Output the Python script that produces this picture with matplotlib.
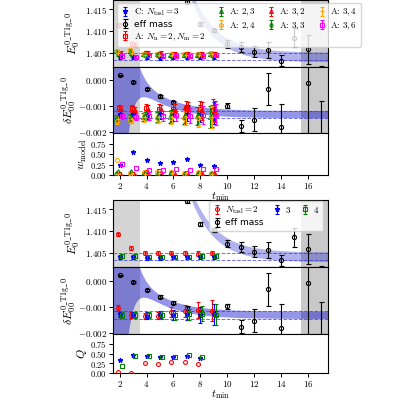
import numpy as np
import matplotlib
matplotlib.use("Agg")
import matplotlib.pyplot as plt
from matplotlib.ticker import FixedLocator, FuncFormatter

plt.rcParams['font.family'] = 'serif'
plt.rcParams['font.serif'] = ['cmr10', 'DejaVu Serif']
plt.rcParams['mathtext.fontset'] = 'cm'
plt.rcParams['axes.formatter.use_mathtext'] = True
plt.rcParams['axes.linewidth'] = 0.8

# ---------------- data ----------------
t_fit = np.arange(2, 10)

# effective mass (same for both groups)
t_effE = np.arange(7, 18)
E_eff = [1.4168, 1.4116, 1.4102, 1.4071, 1.4063, 1.4052, 1.4056, 1.4032, 1.4085, 1.4058, 1.3975]
E_eff_err = [0.0003, 0.0004, 0.0004, 0.0009, 0.0011, 0.0013, 0.0019, 0.0012, 0.0022, 0.0034, 0.0045]
t_effD = np.arange(2, 18)
dE_eff = [0.00020, -0.00006, -0.00034, -0.00061, -0.00084, -0.00103, -0.00119, -0.00126,
          -0.00097, -0.00176, -0.00152, -0.00033, -0.00180, np.nan, -0.00010, -0.00220]
dE_eff_err = [0.00003, 0.00003, 0.00004, 0.00005, 0.00006, 0.00007, 0.00008, 0.00010,
              0.00010, 0.00025, 0.00044, 0.00062, 0.00090, np.nan, 0.00200, 0.00140]

# fit of effective mass (band) and final result (dashed)
E_inf, E_amp, E_gap, E_sig = 1.4039, 0.0100, 0.55, 0.0011
dE_inf, dE_amp, dE_gap = -0.00132, 0.00097, 0.467
dE_sig0, dE_sig1, dE_sigk = 0.00014, 0.00046, 2.0
E_res, E_res_err = 1.4041, 0.00085
dE_res, dE_res_err = -0.00131, 0.00014

# top group: E0
E_C   = [1.4040, 1.4040, 1.4039, 1.4038, 1.4039, 1.4040, 1.4040, 1.4041]
E_A22 = [1.4113, 1.4070, 1.4049, 1.4048, 1.4047, 1.4046, 1.4046, 1.4046]
E_A23 = [1.4053, 1.4054, 1.4046, 1.4046, 1.4045, 1.4045, 1.4045, 1.4047]
E_A24 = [1.4055, 1.4056, 1.4047, 1.4047, 1.4046, 1.4046, 1.4046, 1.4048]
E_A32 = [1.4050, 1.4068, 1.4050, 1.4049, 1.4048, 1.4047, 1.4047, 1.4047]
E_A33 = [1.4047, 1.4048, 1.4044, 1.4044, 1.4043, 1.4044, 1.4044, 1.4045]
E_A34 = [1.4049, 1.4050, 1.4045, 1.4045, 1.4044, 1.4045, 1.4045, 1.4046]
E_A36 = [1.4042, 1.4041, 1.4044, 1.4043, 1.4043, 1.4043, 1.4043, 1.4044]
E_err = [0.0004, 0.0004, 0.0004, 0.0004, 0.0004, 0.0004, 0.0005, 0.0005]

# top group: delta E
dE_C   = [-0.00128, -0.00130, -0.00132, -0.00130, -0.00132, -0.00130, -0.00128, -0.00127]
dE_A22 = [-0.00105, -0.00108, -0.00106, -0.00110, -0.00112, -0.00108, -0.00112, -0.00115]
dE_A23 = [-0.00150, -0.00148, -0.00140, -0.00142, -0.00140, -0.00140, -0.00138, -0.00140]
dE_A24 = [-0.00155, -0.00152, -0.00145, -0.00146, -0.00145, -0.00146, -0.00145, -0.00143]
dE_A32 = [-0.00112, -0.00115, -0.00110, -0.00112, -0.00114, -0.00112, -0.00118, -0.00120]
dE_A33 = [-0.00146, -0.00144, -0.00138, -0.00140, -0.00138, -0.00138, -0.00136, -0.00138]
dE_A34 = [-0.00150, -0.00150, -0.00142, -0.00143, -0.00142, -0.00143, -0.00142, -0.00140]
dE_A36 = [-0.00138, -0.00140, -0.00138, -0.00136, -0.00135, -0.00136, -0.00134, -0.00132]
dE_err = [0.00012, 0.00014, 0.00016, 0.00019, 0.00023, 0.00028, 0.00034, 0.00042]

# top group: model weights
w_C   = [0.23, 0.54, 0.36, 0.29, 0.31, 0.39, 0.24, 0.21]
w_A22 = [0.02, 0.02, 0.08, 0.10, 0.05, 0.04, 0.05, 0.03]
w_A23 = [0.05, 0.03, 0.03, 0.02, 0.03, 0.02, 0.02, 0.02]
w_A24 = [0.36, 0.05, 0.06, 0.08, 0.06, 0.05, 0.06, 0.04]
w_A32 = [0.01, 0.01, 0.04, 0.08, 0.03, 0.03, 0.04, 0.03]
w_A33 = [0.08, 0.06, 0.02, 0.03, 0.05, 0.02, 0.03, 0.02]
w_A34 = [0.02, 0.02, 0.03, 0.05, 0.04, 0.04, 0.03, 0.03]
w_A36 = [0.27, 0.16, 0.13, 0.13, 0.14, 0.12, 0.14, 0.14]

# bottom group
E_N2 = [1.4092, 1.4061, 1.4049, 1.4049, 1.4050, 1.4049, 1.4048, 1.4049]
E_N3 = [1.4040, 1.4040, 1.4038, 1.4038, 1.4039, 1.4039, 1.4040, 1.4040]
E_N4 = [1.4042, 1.4042, 1.4041, 1.4040, 1.4041, 1.4041, 1.4042, 1.4042]
dE_N2 = [-0.00104, -0.00131, -0.00135, -0.00133, -0.00120, -0.00115, -0.00112, -0.00115]
dE_N3 = [-0.00128, -0.00130, -0.00133, -0.00128, -0.00130, -0.00128, -0.00130, -0.00128]
dE_N4 = [-0.00131, -0.00131, -0.00130, -0.00131, -0.00132, -0.00128, -0.00125, -0.00130]
dE_N_err = [0.00010, 0.00010, 0.00012, 0.00014, 0.00018, 0.00022, 0.00030, 0.00040]
Q_N2 = [0.02, 0.00, 0.26, 0.22, 0.27, 0.27, 0.22, np.nan]
Q_N3 = [0.33, 0.47, 0.44, 0.42, 0.40, 0.44, 0.38, np.nan]
Q_N4 = [0.17, 0.44, 0.44, 0.42, 0.41, 0.45, 0.42, np.nan]

# ---------------- style per series ----------------
top_series = [
    ('C: $N_{\\rm tasl}=3$', 'blue', '*', 0.00, E_C, dE_C, w_C),
    ('A: $N_{\\rm n}=2, N_{\\rm m}=2$', 'red', 's', -0.05, E_A22, dE_A22, w_A22),
    ('A: $2,3$', 'green', '^', -0.25, E_A23, dE_A23, w_A23),
    ('A: $2,4$', 'orange', 'o', -0.20, E_A24, dE_A24, w_A24),
    ('A: $3,2$', 'red', '^', 0.10, E_A32, dE_A32, w_A32),
    ('A: $3,3$', 'green', 'd', -0.15, E_A33, dE_A33, w_A33),
    ('A: $3,4$', 'orange', '+', -0.10, E_A34, dE_A34, w_A34),
    ('A: $3,6$', 'magenta', 's', 0.20, E_A36, dE_A36, w_A36),
]
bot_series = [
    ('$N_{\\rm tasl}=2$', 'red', 'o', -0.15, E_N2, dE_N2, Q_N2),
    ('$3$', 'blue', '*', 0.00, E_N3, dE_N3, Q_N3),
    ('$4$', 'green', 's', 0.15, E_N4, dE_N4, Q_N4),
]

fig = plt.figure(figsize=(4, 4), dpi=100)
L, W = 0.2825, 0.5375
up = 0.01
ax1 = fig.add_axes([L, 0.8325, W, 0.1665])
ax2 = fig.add_axes([L, 0.6675, W, 0.165])
ax3 = fig.add_axes([L, 0.5625, W, 0.105])
ax4 = fig.add_axes([L, 0.3225 + up, W, 0.1675])
ax5 = fig.add_axes([L, 0.155 + up, W, 0.1675])
ax6 = fig.add_axes([L, 0.0675, W, 0.0975])

tt = np.linspace(1.5, 17.5, 400)
E_band = E_inf + E_amp * np.exp(-E_gap * (tt - 8))
dE_band = dE_inf + dE_amp * np.exp(-dE_gap * (tt - 4))
dE_sig = dE_sig0 + dE_sig1 * np.exp(-dE_sigk * (tt - 3.5))

fmt3 = FuncFormatter(lambda v, p: '$%.3f$' % v)
fmt2 = FuncFormatter(lambda v, p: '$%.2f$' % v)
fmtx = FuncFormatter(lambda v, p: '$%d$' % v)


def eff_handle(ax, t, y, e, ms):
    return ax.errorbar(t, y, yerr=e, fmt='o', color='k', ms=ms, mfc='none', mew=0.8,
                       capsize=1.8, elinewidth=0.8, capthick=0.8, zorder=4, label='eff mass')


for ax in (ax1, ax2, ax3, ax4, ax5, ax6):
    ax.set_xlim(1.5, 17.5)
    ax.xaxis.set_major_locator(FixedLocator(np.arange(2, 17, 2)))
    ax.xaxis.set_major_formatter(fmtx)
    ax.tick_params(labelsize=6.5, width=0.7, length=3, pad=1.5)

for ax in (ax1, ax2, ax4, ax5):
    ax.axvspan(1.5, 3.5, color='0.83', lw=0, zorder=0)
    ax.axvspan(15.5, 17.5, color='0.79', lw=0, zorder=0)
    ax.tick_params(labelbottom=False)

for ax in (ax1, ax4):
    ax.fill_between(tt, E_band - E_sig, E_band + E_sig, color='#0000cc', alpha=0.3, lw=0, zorder=1)
    for v in (E_res - E_res_err, E_res + E_res_err):
        ax.axhline(v, ls='--', color='#3333dd', lw=0.7, alpha=0.7, zorder=2)
    ax.set_ylim(1.4017, 1.4171)
    ax.yaxis.set_major_locator(FixedLocator([1.405, 1.410, 1.415]))
    ax.yaxis.set_major_formatter(fmt3)
    ax.set_ylabel(r'$E_0^{0\_{\rm T1g}\_0}$', fontsize=8.5)
    ax.yaxis.set_label_coords(-0.145, 0.5)

for ax in (ax2, ax5):
    ax.fill_between(tt, dE_band - dE_sig, dE_band + dE_sig, color='#0000cc', alpha=0.42, lw=0, zorder=1)
    for v in (dE_res - dE_res_err, dE_res + dE_res_err):
        ax.axhline(v, ls='--', color='#3333dd', lw=0.7, alpha=0.7, zorder=2)
    ax.set_ylim(-0.00203, 0.00052)
    ax.yaxis.set_major_locator(FixedLocator([-0.002, -0.001, 0.0]))
    ax.yaxis.set_major_formatter(fmt3)
    ax.set_ylabel(r'$\delta E_{00}^{0\_{\rm T1g}\_0}$', fontsize=8.5)
    ax.yaxis.set_label_coords(-0.165, 0.5)

ax3.set_ylim(0, 1.0)
ax6.set_ylim(0, 1.0)
ax3.set_ylabel(r'$w_{\rm model}$', fontsize=8.5)
ax6.set_ylabel(r'$Q$', fontsize=8.5)
for ax, xly in ((ax3, -0.36), (ax6, -0.38)):
    ax.yaxis.set_major_locator(FixedLocator([0, 0.25, 0.5, 0.75]))
    ax.yaxis.set_major_formatter(fmt2)
    ax.tick_params(axis='y', labelsize=6.2)
    ax.yaxis.set_label_coords(-0.11, 0.5)
    ax.set_xlabel(r'$t_{\rm min}$', fontsize=8)
    ax.xaxis.set_label_coords(0.5, xly)

ekw = dict(mew=0.8, capsize=1.5, elinewidth=0.8, capthick=0.8, zorder=5)

# ---- top group ----
h_top = []
for lab, col, mk, dx, e, de, w in top_series:
    x = t_fit + dx
    mfc = col if mk in ('*', '+') else 'none'
    ms = 3.5 if mk == '*' else 2.8
    h = ax1.errorbar(x, e, yerr=E_err, fmt=mk, color=col, mfc=mfc, ms=ms, label=lab, **ekw)
    ax2.errorbar(x, de, yerr=dE_err, fmt=mk, color=col, mfc=mfc, ms=ms, **ekw)
    ax3.plot(x, w, mk, color=col, mfc=mfc, ms=ms, mew=0.8, zorder=5)
    h_top.append(h)
he1 = eff_handle(ax1, t_effE, E_eff, E_eff_err, 3)
eff_handle(ax2, t_effD, dE_eff, dE_eff_err, 3)

handles = [h_top[0], he1] + h_top[1:]
leg = ax1.legend(handles=handles, labels=[h.get_label() for h in handles], ncol=4,
                 loc='upper left', bbox_to_anchor=(0.02, 0.965), borderaxespad=0,
                 fontsize=6.5, handlelength=1.0, handletextpad=0.4, columnspacing=1.2,
                 labelspacing=0.25, borderpad=0.4)
leg.get_texts()[1].set_fontfamily('DejaVu Sans')
leg.set_zorder(10)

# ---- bottom group ----
h_bot = []
for lab, col, mk, dx, e, de, q in bot_series:
    x = t_fit + dx
    mfc = col if mk == '*' else 'none'
    ms = 3.5 if mk == '*' else 2.8
    h = ax4.errorbar(x, e, yerr=E_err, fmt=mk, color=col, mfc=mfc, ms=ms, label=lab, **ekw)
    ax5.errorbar(x, de, yerr=dE_N_err, fmt=mk, color=col, mfc=mfc, ms=ms, **ekw)
    ax6.plot(x, q, mk, color=col, mfc=mfc, ms=ms, mew=0.8, zorder=5)
    h_bot.append(h)
he4 = eff_handle(ax4, t_effE, E_eff, E_eff_err, 3)
eff_handle(ax5, t_effD, dE_eff, dE_eff_err, 3)

handles = [h_bot[0], he4, h_bot[1], h_bot[2]]
leg2 = ax4.legend(handles=handles, labels=[h.get_label() for h in handles], ncol=3,
                  loc='upper right', bbox_to_anchor=(0.977, 0.985), borderaxespad=0,
                  fontsize=6.5, handlelength=1.0, handletextpad=0.4, columnspacing=1.0,
                  labelspacing=0.25, borderpad=0.4)
leg2.get_texts()[1].set_fontfamily('DejaVu Sans')
leg2.set_zorder(10)

fig.savefig('out.png', dpi=100)
